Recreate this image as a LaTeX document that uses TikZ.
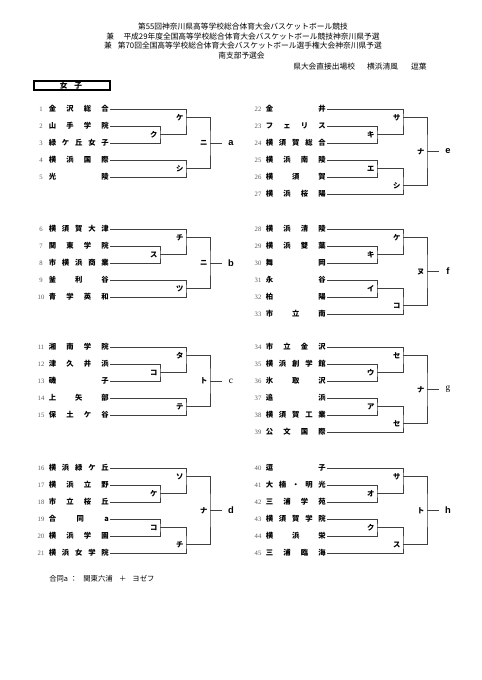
\documentclass[tikz,border=0pt]{standalone}
\usepackage{fontspec}
\setmainfont{Liberation Serif}
\newfontfamily\jp{Noto Sans CJK JP}
\newfontfamily\lat{Liberation Sans}
\tikzset{
  brk/.style={draw=black!75, line width=0.7pt},
  nmst/.style={inner sep=0pt, font=\jp\bfseries\fontsize{5.5pt}{6pt}\selectfont, text height=4.84pt, text depth=0.66pt},
  numst/.style={inner sep=0pt, font=\fontsize{5pt}{6pt}\selectfont, text=black!65, text height=3.4pt, text depth=0pt},
  labst/.style={inner sep=0pt, anchor=east, xshift=-1.8pt, font=\jp\bfseries\fontsize{5.5pt}{6pt}\selectfont, text height=4.84pt, text depth=0.66pt},
  letst/.style={inner sep=0pt, font=\lat\bfseries\fontsize{7pt}{8pt}\selectfont},
  hdr/.style={inner sep=0pt, font=\jp\fontsize{5.8pt}{6.5pt}\selectfont, text height=5.1pt, text depth=0.7pt},
  boxst/.style={draw=black, line width=0.8pt},
}
\newcommand\entry[5]{%
  \node[numst] (u#1) at ({#2+41},{#3}) {#4};
  \node[nmst, anchor=west] (n#1) at ({#2+48.5},{#3}) {\makebox[45pt][s]{#5}};
}
\newcommand\SixB[9]{%
  \coordinate (#1s0) at ({#2+110},{#3});
  \coordinate (#1s1) at ({#2+110},{#3+17});
  \coordinate (#1s2) at ({#2+110},{#3+34});
  \coordinate (#1s3) at ({#2+110},{#3+51});
  \coordinate (#1s4) at ({#2+110},{#3+68});
  \coordinate (#1s5) at ({#2+110},{#3+85});
  \coordinate (#1p1) at ({#2+160},{#3+25.5});
  \coordinate (#1p2) at ({#2+160},{#3+59.5});
  \coordinate (#1q1) at ({#2+186},{#3+8.5});
  \coordinate (#1q2) at ({#2+186},{#3+76.5});
  \coordinate (#1f) at ({#2+210},{#3+42.5});
  \coordinate (#1e) at ({#2+222},{#3+42.5});
  \draw[brk] (#1s1) -| (#1p1) |- (#1s2);
  \draw[brk] (#1s3) -| (#1p2) |- (#1s4);
  \draw[brk] (#1s0) -| (#1q1) |- (#1p1);
  \draw[brk] (#1s5) -| (#1q2) |- (#1p2);
  \draw[brk] (#1q1) -| (#1f) |- (#1q2);
  \draw[brk] (#1f) -- (#1e);
  \node[labst] (#1l1) at (#1q1) {#4};
  \node[labst] (#1l2) at (#1p1) {#5};
  \node[labst] (#1l3) at (#1p2) {#6};
  \node[labst] (#1l4) at (#1q2) {#7};
  \node[labst] (#1l5) at (#1f) {#8};
  \node[letst] (#1w) at ({#2+231},{#3+42.5}) {#9};
}
\newcommand\FiveB[7]{%
  \coordinate (#1s0) at (110,{#2});
  \coordinate (#1s1) at (110,{#2+17});
  \coordinate (#1s2) at (110,{#2+34});
  \coordinate (#1s3) at (110,{#2+51});
  \coordinate (#1s4) at (110,{#2+68});
  \coordinate (#1p1) at (160,{#2+25.5});
  \coordinate (#1q1) at (186,{#2+8.5});
  \coordinate (#1q2) at (186,{#2+59.5});
  \coordinate (#1f) at (210,{#2+34});
  \coordinate (#1e) at (222,{#2+34});
  \draw[brk] (#1s1) -| (#1p1) |- (#1s2);
  \draw[brk] (#1s0) -| (#1q1) |- (#1p1);
  \draw[brk] (#1s3) -| (#1q2) |- (#1s4);
  \draw[brk] (#1q1) -| (#1f) |- (#1q2);
  \draw[brk] (#1f) -- (#1e);
  \node[labst] (#1l1) at (#1q1) {#3};
  \node[labst] (#1l2) at (#1p1) {#4};
  \node[labst] (#1l3) at (#1q2) {#5};
  \node[labst] (#1l4) at (#1f) {#6};
  \node[letst] (#1w) at (231,{#2+34}) {#7};
}
\begin{document}
\begin{tikzpicture}[x=0.75pt,y=-0.75pt]
\fill[white] (0,0) rectangle (481,680);
\useasboundingbox (0,0) rectangle (481,680);
% header
\node[hdr] (h1) at (243,27) {第55回神奈川県高等学校総合体育大会バスケットボール競技};
\node[hdr] (h2) at (243,37) {兼\hspace{7pt}平成29年度全国高等学校総合体育大会バスケットボール競技神奈川県予選};
\node[hdr] (h3) at (243,46) {兼\hspace{4.5pt}第70回全国高等学校総合体育大会バスケットボール選手権大会神奈川県予選};
\node[hdr] (h4) at (241.5,56) {南支部予選会};
\node[hdr, anchor=west] (h5) at (293,67) {県大会直接出場校\hspace{9pt}横浜清風\hspace{9.75pt}逗葉};
\draw[boxst] (34,81) rectangle (110,90);
\node[hdr, font=\jp\bfseries\fontsize{5.8pt}{6.5pt}\selectfont] (gx) at (71,85.5) {女\hspace{5pt}子};
% left column
\entry{1}{0}{109}{1}{金\hfill 沢\hfill 総\hfill 合}
\entry{2}{0}{126}{2}{山\hfill 手\hfill 学\hfill 院}
\entry{3}{0}{143}{3}{緑\hfill ケ\hfill 丘\hfill 女\hfill 子}
\entry{4}{0}{160}{4}{横\hfill 浜\hfill 国\hfill 際}
\entry{5}{0}{177}{5}{光\hfill 陵}
\FiveB{A}{109}{ケ}{ク}{シ}{ニ}{a}
\entry{6}{0}{229}{6}{横\hfill 須\hfill 賀\hfill 大\hfill 津}
\entry{7}{0}{246}{7}{関\hfill 東\hfill 学\hfill 院}
\entry{8}{0}{263}{8}{市\hfill 横\hfill 浜\hfill 商\hfill 業}
\entry{9}{0}{280}{9}{釜\hfill 利\hfill 谷}
\entry{10}{0}{297}{10}{青\hfill 学\hfill 英\hfill 和}
\FiveB{B}{229}{チ}{ス}{ツ}{ニ}{b}
\entry{11}{0}{347}{11}{湘\hfill 南\hfill 学\hfill 院}
\entry{12}{0}{364}{12}{津\hfill 久\hfill 井\hfill 浜}
\entry{13}{0}{381}{13}{磯\hfill 子}
\entry{14}{0}{398}{14}{上\hfill 矢\hfill 部}
\entry{15}{0}{415}{15}{保\hfill 土\hfill ケ\hfill 谷}
\FiveB{C}{347}{タ}{コ}{テ}{ト}{\rmfamily\mdseries c}
\entry{16}{0}{468}{16}{横\hfill 浜\hfill 緑\hfill ケ\hfill 丘}
\entry{17}{0}{485}{17}{横\hfill 浜\hfill 立\hfill 野}
\entry{18}{0}{502}{18}{市\hfill 立\hfill 桜\hfill 丘}
\entry{19}{0}{519}{19}{合\hfill 同\hfill a}
\entry{20}{0}{536}{20}{横\hfill 浜\hfill 学\hfill 園}
\entry{21}{0}{553}{21}{横\hfill 浜\hfill 女\hfill 学\hfill 院}
\SixB{D}{0}{468}{ソ}{ケ}{コ}{チ}{ナ}{d}
% right column
\entry{22}{217}{109}{22}{金\hfill 井}
\entry{23}{217}{126}{23}{フ\hfill ェ\hfill リ\hfill ス}
\entry{24}{217}{143}{24}{横\hfill 須\hfill 賀\hfill 総\hfill 合}
\entry{25}{217}{160}{25}{横\hfill 浜\hfill 南\hfill 陵}
\entry{26}{217}{177}{26}{横\hfill 須\hfill 賀}
\entry{27}{217}{194}{27}{横\hfill 浜\hfill 桜\hfill 陽}
\SixB{E}{217}{109}{サ}{キ}{エ}{シ}{ナ}{e}
\entry{28}{217}{229}{28}{横\hfill 浜\hfill 清\hfill 陵}
\entry{29}{217}{246}{29}{横\hfill 浜\hfill 雙\hfill 葉}
\entry{30}{217}{263}{30}{舞\hfill 岡}
\entry{31}{217}{280}{31}{永\hfill 谷}
\entry{32}{217}{297}{32}{柏\hfill 陽}
\entry{33}{217}{314}{33}{市\hfill 立\hfill 南}
\SixB{F}{217}{229}{ケ}{キ}{イ}{コ}{ヌ}{f}
\entry{34}{217}{347}{34}{市\hfill 立\hfill 金\hfill 沢}
\entry{35}{217}{364}{35}{横\hfill 浜\hfill 創\hfill 学\hfill 館}
\entry{36}{217}{381}{36}{氷\hfill 取\hfill 沢}
\entry{37}{217}{398}{37}{追\hfill 浜}
\entry{38}{217}{415}{38}{横\hfill 須\hfill 賀\hfill 工\hfill 業}
\entry{39}{217}{432}{39}{公\hfill 文\hfill 国\hfill 際}
\SixB{G}{217}{347}{セ}{ウ}{ア}{セ}{ナ}{\rmfamily\mdseries g}
\entry{40}{217}{468}{40}{逗\hfill 子}
\entry{41}{217}{485}{41}{大\hfill 楠\hfill ・\hfill 明\hfill 光}
\entry{42}{217}{502}{42}{三\hfill 浦\hfill 学\hfill 苑}
\entry{43}{217}{519}{43}{横\hfill 須\hfill 賀\hfill 学\hfill 院}
\entry{44}{217}{536}{44}{横\hfill 浜\hfill 栄}
\entry{45}{217}{553}{45}{三\hfill 浦\hfill 臨\hfill 海}
\SixB{H}{217}{468}{サ}{オ}{ク}{ス}{ト}{h}
% footnote
\node[hdr, anchor=west, font=\jp\fontsize{5.5pt}{6pt}\selectfont, text height=4.84pt, text depth=0.66pt] (fn) at (49,579) {合同a\hspace{1.5pt}：\hspace{4.5pt}関東六浦\hspace{4.8pt}＋\hspace{4.5pt}ヨゼフ};
\end{tikzpicture}
\end{document}
